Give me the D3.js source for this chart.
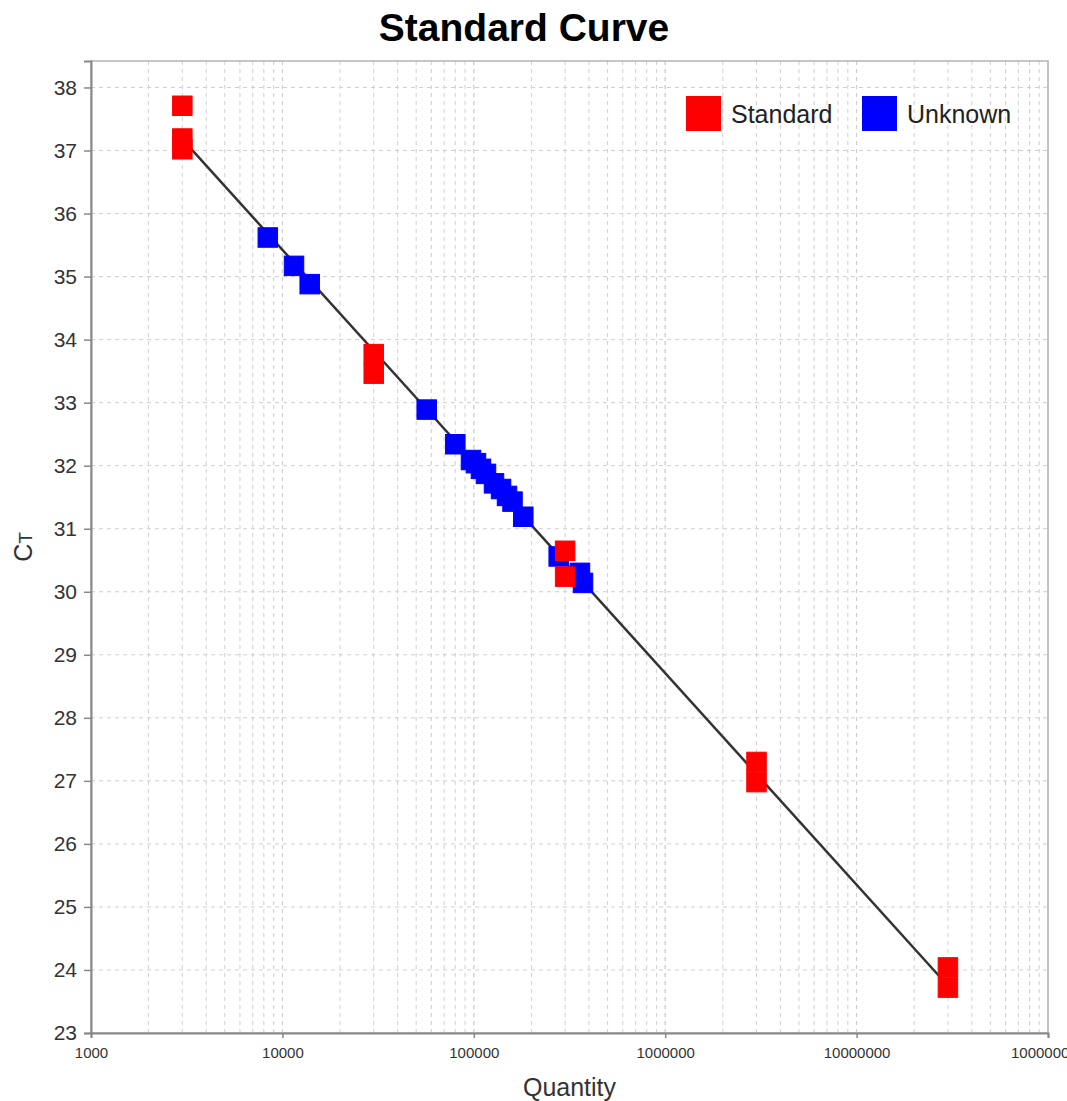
<!DOCTYPE html>
<html lang="en">
<head>
  <meta charset="UTF-8">
  <title>Standard Curve</title>
  <script src="https://d3js.org/d3.v7.min.js"></script>
  <style>
    body {
      margin: 0;
      background: #fff;
      font-family: "Liberation Sans", Arial, sans-serif;
    }
    .grid line {
      stroke: #cfcfcf;
      stroke-width: 1;
      stroke-dasharray: 4,4;
    }
    .marker {
      stroke-width: 1;
    }
  </style>
</head>
<body>
  <div id="chart"></div>

  <script>
    // Standard series (quantity, Ct)
    const stdQty = [3000, 3000, 3000, 30000, 30000, 300000, 300000, 3000000, 3000000, 30000000, 30000000];
    const stdCt = [37.71, 37.19, 37.02, 33.77, 33.46, 30.65, 30.24, 27.30, 26.98, 24.04, 23.72];

    // Unknown series
    const unkQty = [8390, 11500, 13890, 56750, 80050, 96690, 102700, 109000, 115800, 127500,
                    138800, 149100, 159300, 181400, 277700, 358700, 372000];
    const unkCt = [35.62, 35.17, 34.88, 32.89, 32.34, 32.09, 32.04, 31.95, 31.87, 31.72,
                   31.63, 31.52, 31.43, 31.19, 30.56, 30.30, 30.14];

    // fitted line end points
    const fitQty = [3000, 30000000];
    const fitCt = [37.18, 23.75];

    const yTicks = [23, 24, 25, 26, 27, 28, 29, 30, 31, 32, 33, 34, 35, 36, 37, 38];
    const xTicks = [1000, 10000, 100000, 1000000, 10000000, 100000000];
    const legendItems = ["Standard", "Unknown"];
    const legendColors = ["#ff0000", "#0000ff"];

    const width = 1067, height = 1101;
    const margin = { top: 61, right: 19, bottom: 68, left: 91 };
    const markerSize = 19.5;

    const svg = d3.select("#chart").append("svg")
      .attr("width", width)
      .attr("height", height);

    const x = d3.scaleLog()
      .domain([1000, 100000000])
      .range([margin.left, width - margin.right]);

    const y = d3.scaleLinear()
      .domain([23, 38.42])
      .range([height - margin.bottom, margin.top]);

    // minor log ticks for the grid
    const minorTicks = [];
    for (let d = 1000; d < 100000000; d *= 10) {
      for (let k = 1; k <= 10; k++) minorTicks.push(d * k);
    }

    const grid = svg.append("g").attr("class", "grid");
    grid.selectAll(".vx")
      .data(minorTicks)
      .enter().append("line")
      .attr("x1", d => x(d)).attr("x2", d => x(d))
      .attr("y1", margin.top).attr("y2", height - margin.bottom);
    grid.selectAll(".hy")
      .data(yTicks)
      .enter().append("line")
      .attr("x1", margin.left).attr("x2", width - margin.right)
      .attr("y1", d => y(d)).attr("y2", d => y(d));

    // plot outline (top/right light)
    svg.append("rect")
      .attr("x", margin.left).attr("y", margin.top)
      .attr("width", width - margin.left - margin.right)
      .attr("height", height - margin.top - margin.bottom)
      .attr("fill", "none")
      .attr("stroke", "#b4b4b4")
      .attr("stroke-width", 1.5);

    // fitted line
    const line = d3.line().x(d => x(d[0])).y(d => y(d[1]));
    svg.append("path")
      .datum(fitQty.map((q, i) => [q, fitCt[i]]))
      .attr("d", line)
      .attr("fill", "none")
      .attr("stroke", "#333")
      .attr("stroke-width", 2.5);

    // markers: unknown below, standard on top
    svg.append("g").selectAll("rect")
      .data(unkQty.map((q, i) => [q, unkCt[i]]))
      .enter().append("rect")
      .attr("class", "marker")
      .attr("x", d => x(d[0]) - markerSize / 2)
      .attr("y", d => y(d[1]) - markerSize / 2)
      .attr("width", markerSize).attr("height", markerSize)
      .attr("fill", legendColors[1])
      .attr("stroke", legendColors[1]);

    svg.append("g").selectAll("rect")
      .data(stdQty.map((q, i) => [q, stdCt[i]]))
      .enter().append("rect")
      .attr("class", "marker")
      .attr("x", d => x(d[0]) - markerSize / 2)
      .attr("y", d => y(d[1]) - markerSize / 2)
      .attr("width", markerSize).attr("height", markerSize)
      .attr("fill", legendColors[0])
      .attr("stroke", legendColors[0]);

    // axes
    const xAxis = d3.axisBottom(x)
      .tickValues(xTicks)
      .tickFormat(d3.format("d"))
      .tickSize(5).tickPadding(9);
    const gx = svg.append("g")
      .attr("transform", `translate(0, ${height - margin.bottom})`)
      .call(xAxis);
    gx.selectAll("text").attr("font-size", 15).attr("fill", "#333")
      .attr("font-family", "'Liberation Sans', Arial, sans-serif");

    const yAxis = d3.axisLeft(y)
      .tickValues(yTicks)
      .tickFormat(d3.format("d"))
      .tickSize(7).tickPadding(7);
    const gy = svg.append("g")
      .attr("transform", `translate(${margin.left}, 0)`)
      .call(yAxis);
    gy.selectAll("text").attr("font-size", 21).attr("fill", "#333")
      .attr("font-family", "'Liberation Sans', Arial, sans-serif");

    [gx, gy].forEach(g => {
      g.select(".domain").attr("stroke", "#888").attr("stroke-width", 2);
      g.selectAll(".tick line").attr("stroke", "#888").attr("stroke-width", 1.5);
    });

    // title
    svg.append("text")
      .attr("x", 524).attr("y", 41)
      .attr("text-anchor", "middle")
      .attr("font-size", 39).attr("font-weight", "bold")
      .text("Standard Curve");

    // axis labels
    svg.append("text")
      .attr("x", (margin.left + width - margin.right) / 2)
      .attr("y", height - 5)
      .attr("text-anchor", "middle")
      .attr("font-size", 25).attr("fill", "#333")
      .text("Quantity");

    const yl = svg.append("text")
      .attr("transform", `translate(32, ${(margin.top + height - margin.bottom) / 2}) rotate(-90)`)
      .attr("text-anchor", "middle")
      .attr("font-size", 25).attr("fill", "#333");
    yl.append("tspan").text("C");
    yl.append("tspan").attr("font-size", 19).text("T");

    // legend
    const legendX = [686, 862];
    const legend = svg.append("g");
    legendItems.forEach((name, i) => {
      legend.append("rect")
        .attr("x", legendX[i]).attr("y", 96)
        .attr("width", 35).attr("height", 35)
        .attr("fill", legendColors[i]);
      legend.append("text")
        .attr("x", legendX[i] + 45).attr("y", 123)
        .attr("font-size", 25).attr("fill", "#222")
        .text(name);
    });
  </script>
</body>
</html>
